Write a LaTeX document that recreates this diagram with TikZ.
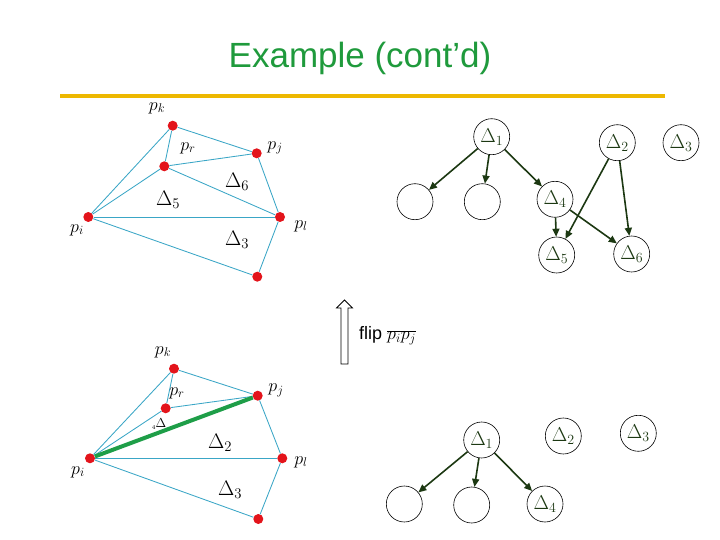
\RequirePackage{fix-cm}
\documentclass[tikz,border=0pt]{standalone}
\usepackage{fontspec}
\setsansfont{Liberation Sans}
\usetikzlibrary{arrows.meta}
\definecolor{titlegreen}{HTML}{1F9A3C}
\definecolor{rulegold}{HTML}{EDB800}
\definecolor{meshblue}{HTML}{3AA6C6}
\definecolor{dotred}{HTML}{E3141B}
\definecolor{flipgreen}{HTML}{1E9E48}
\definecolor{treegreen}{HTML}{1C3812}
\tikzset{
    pt/.style={circle, fill=dotred, inner sep=0pt, minimum size=10pt},
    mesh/.style={draw=meshblue, line width=0.85pt},
    flipedge/.style={draw=flipgreen, line width=4pt},
    plabel/.style={font=\fontsize{18}{21}\selectfont, inner sep=0pt},
    dlabel/.style={font=\fontsize{21}{24}\selectfont, inner sep=0pt},
    tri/.style={circle, draw=black, line width=0.6pt, minimum size=36pt, inner sep=0pt, text=treegreen, font=\fontsize{20}{23}\selectfont},
    dag/.style={-{Triangle[length=8pt, width=7pt]}, line width=1.6pt, draw=treegreen}
}

\begin{document}
\begin{tikzpicture}[x=1pt, y=-1pt]
        \useasboundingbox (0,0) rectangle (720,540);
        \node[font=\sffamily\fontsize{35}{40}\selectfont, text=titlegreen] (title) at (360,58) {Example (cont’d)};
        \draw[rulegold, line width=4pt] (60,96) -- (665,96);

        % triangulation before the flip
        \node[pt] (ak) at (172.7,125.7) {};
        \node[pt] (aj) at (256.7,153.3) {};
        \node[pt] (ar) at (164.3,166.3) {};
        \node[pt] (ai) at (88.3,217) {};
        \node[pt] (al) at (280,217) {};
        \node[pt] (am) at (257.3,276.7) {};
        \draw[mesh] (ak) -- (aj);
        \draw[mesh] (ak) -- (ar);
        \draw[mesh] (ak) -- (ai);
        \draw[mesh] (ar) -- (aj);
        \draw[mesh] (ar) -- (ai);
        \draw[mesh] (ar) -- (al);
        \draw[mesh] (aj) -- (al);
        \draw[mesh] (ai) -- (al);
        \draw[mesh] (ai) -- (am);
        \draw[mesh] (al) -- (am);
        \node[plabel] (akl) at (157,108) {$p_k$};
        \node[plabel] (arl) at (188,148) {$p_r$};
        \node[plabel] (ajl) at (275,148) {$p_j$};
        \node[plabel] (ail) at (77,230) {$p_i$};
        \node[plabel] (all) at (301,226) {$p_l$};
        \node[dlabel] (ad5) at (168,200) {$\Delta_5$};
        \node[dlabel] (ad6) at (237,182) {$\Delta_6$};
        \node[dlabel] (ad3) at (237,240) {$\Delta_3$};

        % triangulation after the flip
        \node[pt] (bk) at (174,368.7) {};
        \node[pt] (bj) at (257.7,395.7) {};
        \node[pt] (br) at (165.7,408.3) {};
        \node[pt] (bi) at (90,458.3) {};
        \node[pt] (bl) at (282.3,458.3) {};
        \node[pt] (bm) at (258.3,519) {};
        \draw[mesh] (bk) -- (bj);
        \draw[mesh] (bk) -- (br);
        \draw[mesh] (bk) -- (bi);
        \draw[mesh] (br) -- (bj);
        \draw[mesh] (br) -- (bi);
        \draw[mesh] (bj) -- (bl);
        \draw[mesh] (bi) -- (bl);
        \draw[mesh] (bi) -- (bm);
        \draw[mesh] (bl) -- (bm);
        \draw[flipedge] (bi) -- (bj);
        \node[plabel] (bkl) at (163,352) {$p_k$};
        \node[plabel] (brl) at (177,393) {$p_r$};
        \node[plabel] (bjl) at (276,390) {$p_j$};
        \node[plabel] (bil) at (78,472) {$p_i$};
        \node[plabel] (bll) at (301,462) {$p_l$};
        \node[inner sep=0pt, font=\fontsize{13}{15}\selectfont] (bd4) at (159,424) {{\fontsize{6}{7}\selectfont\raisebox{-2pt}{4}}$\Delta$};
        \node[dlabel] (bd2) at (220,443) {$\Delta_2$};
        \node[dlabel] (bd3) at (230,490) {$\Delta_3$};

        % flip arrow
        \draw[line width=0.8pt] (341,364) -- (341,308) -- (336.5,308) -- (344.5,300) -- (352.5,308) -- (348,308) -- (348,364) -- cycle;
        \node[font=\sffamily\fontsize{18}{21}\selectfont, anchor=west, inner sep=0pt] (flip) at (359,336) {flip $\overline{p_i p_j}$};

        % history before the flip
        \node[tri] (u1) at (491.7,136.7) {$\Delta_1$};
        \node[tri] (u2) at (617.3,142.7) {$\Delta_2$};
        \node[tri] (u3) at (681,142.7) {$\Delta_3$};
        \node[tri] (ua) at (415,201.7) {};
        \node[tri] (ub) at (482.3,201.7) {};
        \node[tri] (u4) at (555,199.3) {$\Delta_4$};
        \node[tri] (u5) at (556.7,255) {$\Delta_5$};
        \node[tri] (u6) at (631.7,254) {$\Delta_6$};
        \draw[dag] (u1) -- (ua);
        \draw[dag] (u1) -- (ub);
        \draw[dag] (u1) -- (u4);
        \draw[dag] (u4) -- (u5);
        \draw[dag] (u4) -- (u6);
        \draw[dag] (u2) -- (u5);
        \draw[dag] (u2) -- (u6);

        % history after the flip
        \node[tri] (v1) at (481.7,440) {$\Delta_1$};
        \node[tri] (v2) at (563.3,436) {$\Delta_2$};
        \node[tri] (v3) at (638.3,433.3) {$\Delta_3$};
        \node[tri] (va) at (404.3,504) {};
        \node[tri] (vb) at (471.7,505) {};
        \node[tri] (v4) at (545,504) {$\Delta_4$};
        \draw[dag] (v1) -- (va);
        \draw[dag] (v1) -- (vb);
        \draw[dag] (v1) -- (v4);
    \end{tikzpicture}
\end{document}
